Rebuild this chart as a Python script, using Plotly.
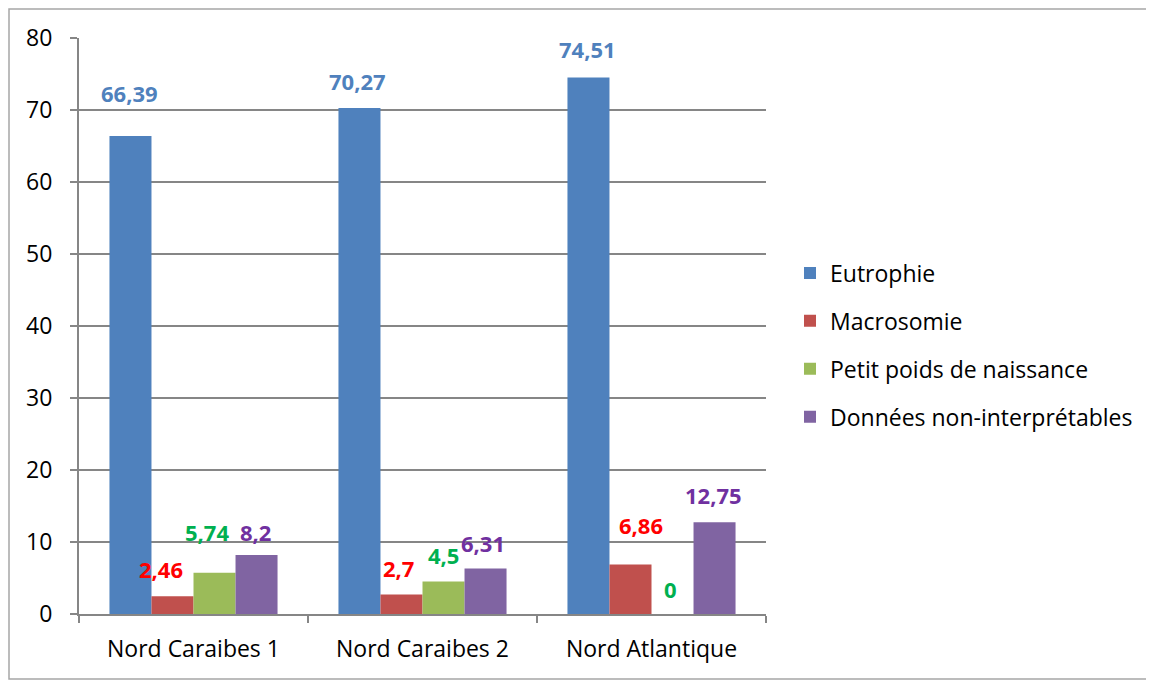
import plotly.graph_objects as go

categories = ['Nord Caraibes 1', 'Nord Caraibes 2', 'Nord Atlantique']
series_names = ['Eutrophie', 'Macrosomie', 'Petit poids de naissance', 'Données non-interprétables']
eutrophie = [66.39, 70.27, 74.51]
macrosomie = [2.46, 2.7, 6.86]
petit_poids = [5.74, 4.5, 0]
non_interp = [8.2, 6.31, 12.75]
values = [eutrophie, macrosomie, petit_poids, non_interp]

bar_colors = ['#4F81BD', '#C0504D', '#9BBB59', '#8064A2']
label_colors = ['#4F81BD', '#FF0000', '#00B050', '#7030A0']

# hand-moved label nudges (px): (dx, dy up) per series / category
nudges = [
    [(-1, 43), (-2, 27), (-1, 29)],
    [(-11, 27), (-3, 27), (11, 40)],
    [(-8, 41), (0, 27), (-2, 25)],
    [(-1, 23), (-3, 26), (-1, 27)],
]

# page body has an 8px margin, so the figure is a bit smaller than the window
W, H = 1146, 674
ml, mr, mt, mb = 71, 388, 30, 68
pw = W - ml - mr
ph = H - mt - mb
bargap = 0.266
font = 'Open Sans, Noto Sans, sans-serif'

fig = go.Figure()
for k, (name, vals, col) in enumerate(zip(series_names, values, bar_colors)):
    fig.add_trace(go.Bar(x=categories, y=vals, name=name, legendgroup='g%d' % k,
                         marker=dict(color=col, line=dict(width=0))))

# data labels
cat_w = pw / len(categories)
bar_w = cat_w * (1 - bargap) / len(series_names)
for i, vals in enumerate(values):
    off = (i - (len(series_names) - 1) / 2) * bar_w
    for j, v in enumerate(vals):
        dx, dy = nudges[i][j]
        txt = ('%g' % v).replace('.', ',')
        fig.add_annotation(x=categories[j], y=v, xref='x', yref='y', text='<b>%s</b>' % txt,
                           showarrow=False, xshift=off + dx, yshift=dy, yanchor='middle',
                           font=dict(family=font, size=22, color=label_colors[i]))

# chart border
fig.add_shape(type='rect', xref='paper', yref='paper',
              x0=(1 - ml) / pw, x1=(1142 - ml) / pw,
              y0=(H - mb - 671) / ph, y1=(H - mb - 1) / ph,
              line=dict(color='#A6A6A6', width=1.5), fillcolor='rgba(0,0,0,0)', layer='below')

fig.update_layout(
    width=W, height=H,
    margin=dict(l=ml, r=mr, t=mt, b=mb, autoexpand=False),
    barmode='group', bargap=bargap, bargroupgap=0,
    plot_bgcolor='white', paper_bgcolor='white',
    font=dict(family=font, size=23, color='black'),
    showlegend=True,
    legend=dict(x=(782 - ml) / pw, xanchor='left', y=(H - mb - 337) / ph, yanchor='middle',
                font=dict(family=font, size=23, color='black'), tracegroupgap=15,
                traceorder='grouped', itemwidth=30),
    xaxis=dict(type='category', showline=True, linecolor='#868686', linewidth=2,
               ticks='outside', tickson='boundaries', ticklen=7, tickcolor='#868686', tickwidth=2,
               showgrid=False, tickfont=dict(size=23), ticklabelstandoff=13, automargin=False),
    yaxis=dict(range=[0, 80], dtick=10, showline=True, linecolor='#868686', linewidth=2,
               ticks='outside', ticklen=7, tickcolor='#868686', tickwidth=2,
               showgrid=True, gridcolor='#868686', gridwidth=2, zeroline=False,
               tickfont=dict(size=23), ticklabelstandoff=13, automargin=False),
)

fig.write_html('out.html')
